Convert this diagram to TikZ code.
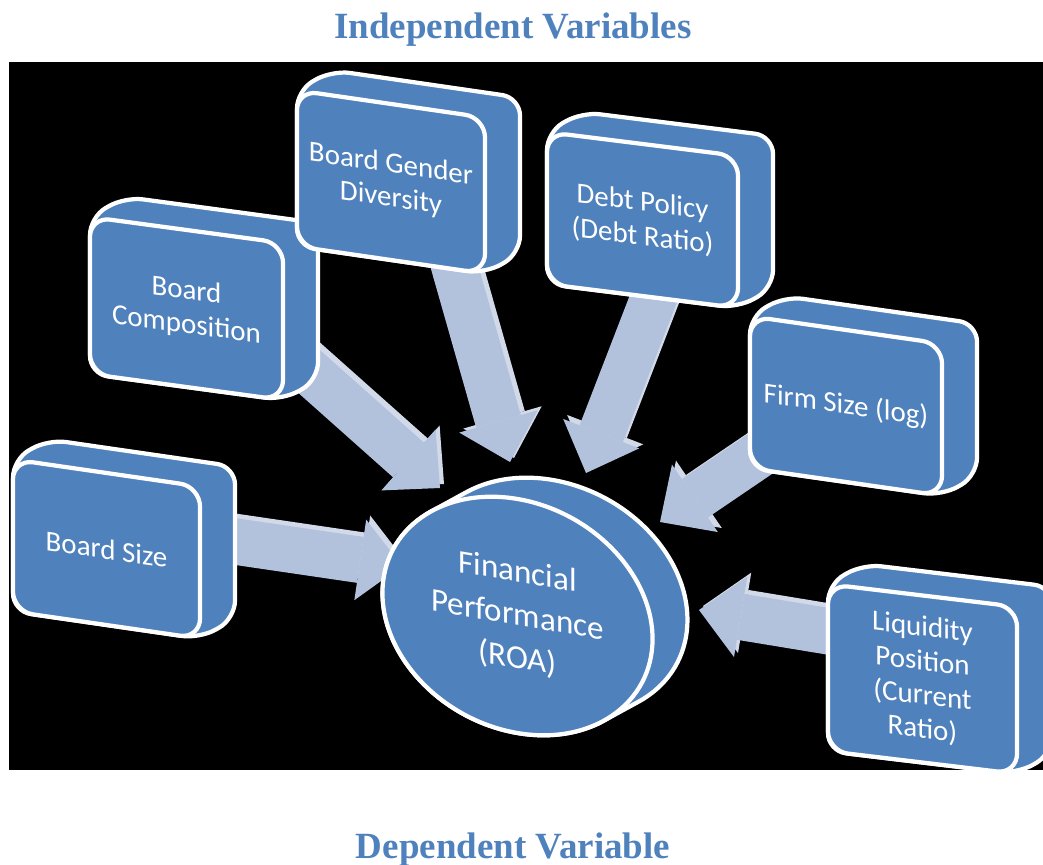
\documentclass[tikz,border=0pt]{standalone}
\usepackage{fontspec}
\setmainfont{Carlito}
\newfontfamily\headfont{Liberation Serif}
\usetikzlibrary{shapes.geometric,arrows.meta}
\definecolor{boxblue}{HTML}{4F81BD}
\definecolor{flowfill}{HTML}{B3C2DC}
\definecolor{flowside}{HTML}{D2DAE9}
\pgfdeclarelayer{background}
\pgfdeclarelayer{flows}
\pgfdeclarelayer{depth}
\pgfsetlayers{background,flows,depth,main}

\begin{document}
\begin{tikzpicture}[
    x=0.025cm, y=-0.025cm,
    varbox/.style={draw=white, line width=3pt, fill=boxblue, rounded corners=0.5cm, outer sep=0pt, inner sep=2pt, text=white, align=center, font=\fontsize{20.6}{24.2}\selectfont},
    depthface/.style={draw=white, line width=3pt, fill=boxblue, rounded corners=0.45cm},
    outcome/.style={ellipse, draw=white, line width=3pt, fill=boxblue, outer sep=0pt, inner sep=0pt, minimum width=6.75cm, minimum height=5.85cm, text=white, align=center, font=\fontsize{23.5}{30.6}\selectfont},
    flow/.style={draw=flowfill, line width=33pt, -{Triangle[width=58pt,length=30pt,line width=0pt]},
        preaction={draw=flowside, line width=33pt, -{Triangle[width=58pt,length=30pt,line width=0pt]}, transform canvas={shift={(4,-4)}}}},
    heading/.style={text=boxblue, font=\headfont\bfseries\fontsize{26.3}{30}\selectfont, anchor=base}
    ]
    \useasboundingbox (0,0) rectangle (1043,865);

    \node[heading] (indep) at (513,39) {Independent Variables};
    \node[heading] (dep) at (513,858) {Dependent Variable};

    % independent variables
    \node[varbox, yslant=-0.145, minimum width=4.675cm, minimum height=3.8cm] (BS) at (106.5,549) {Board Size};
    \node[varbox, yslant=-0.135, minimum width=4.825cm, minimum height=3.925cm] (BC) at (186.5,308.5) {Board\\Composition};
    \node[varbox, yslant=-0.145, minimum width=4.7cm, minimum height=3.9cm] (BGD) at (391,182) {Board Gender\\Diversity};
    \node[varbox, yslant=-0.125, minimum width=4.775cm, minimum height=3.8cm] (DP) at (642.5,220) {Debt Policy\\(Debt Ratio)};
    \node[varbox, yslant=-0.143, minimum width=4.8cm, minimum height=3.8cm] (FS) at (846,406) {Firm Size (log)};
    \node[varbox, yslant=-0.12, minimum width=4.725cm, minimum height=4.175cm] (LP) at (922.5,679) {Liquidity\\Position\\(Current\\Ratio)};

    % dependent variable
    \node[outcome, yslant=-0.17] (FP) at (517.5,616) {Financial\\Performance\\(ROA)};

    \coordinate (BS-out) at (150,529);
    \coordinate (BC-out) at (258,326);
    \coordinate (BGD-out) at (442,223);
    \coordinate (DP-out) at (666,266);
    \coordinate (FS-out) at (791,433);
    \coordinate (LP-out) at (869,638);
    \coordinate (FP-w) at (402,566);
    \coordinate (FP-nw) at (440,488);
    \coordinate (FP-n) at (510,462);
    \coordinate (FP-ne) at (586,473);
    \coordinate (FP-e) at (660,522);
    \coordinate (FP-se) at (699,610);

    \begin{pgfonlayer}{depth}
        \foreach \b in {BS,BC,BGD,DP,FS,LP}
            \draw[depthface] (\b.south west) -- (\b.north west) -- ([shift={(35,-20)}]\b.north west) -- ([shift={(35,-20)}]\b.north east) -- ([shift={(35,-20)}]\b.south east) -- (\b.south east) -- cycle;
        \begin{scope}[shift={(517.5,616)}, yslant=-0.17]
            \draw[depthface, sharp corners] (-50.9,-115.3) arc[start angle=230.5, end angle=410.5, x radius=135, y radius=117] -- (85.9,90.3) arc[start angle=50.5, end angle=230.5, x radius=135, y radius=117] -- cycle;
        \end{scope}
    \end{pgfonlayer}

    \begin{pgfonlayer}{flows}
        \draw[flow] (BS-out) -- (FP-w);
        \draw[flow] (BC-out) -- (FP-nw);
        \draw[flow] (BGD-out) -- (FP-n);
        \draw[flow] (DP-out) -- (FP-ne);
        \draw[flow] (FS-out) -- (FP-e);
        \draw[flow] (LP-out) -- (FP-se);
    \end{pgfonlayer}

    \begin{pgfonlayer}{background}
        \fill[black] (9,62) rectangle (1043,770);
    \end{pgfonlayer}
\end{tikzpicture}
\end{document}
